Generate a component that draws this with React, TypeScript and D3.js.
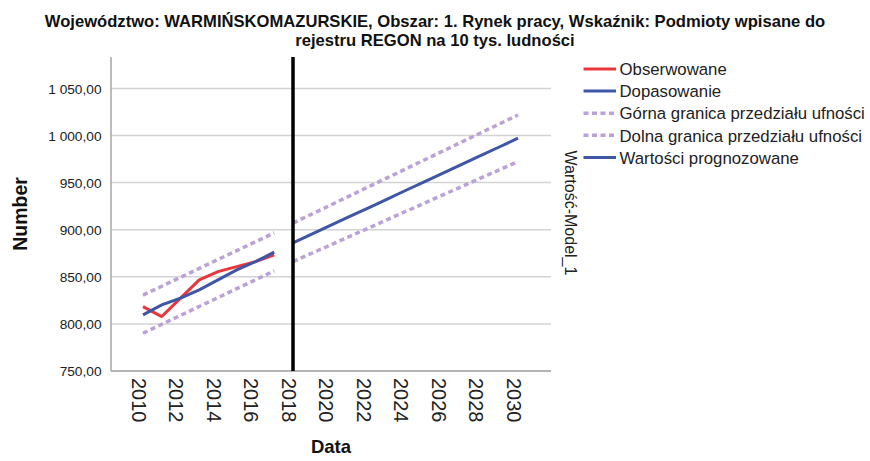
import React from "react";
import * as d3 from "d3";

const titleLines = [
  "Województwo: WARMIŃSKOMAZURSKIE, Obszar: 1. Rynek pracy, Wskaźnik: Podmioty wpisane do",
  "rejestru REGON na 10 tys. ludności",
];

const pastYears = [2010, 2011, 2012, 2013, 2014, 2015, 2016, 2017];
const observed = [818.4, 807.8, 827.3, 846.7, 855.5, 860.8, 866.1, 873.2];
const fitted = [809.6, 820.2, 827.3, 836.1, 846.7, 857.3, 866.1, 876.1];
const fitUpper = [830.6, 840.0, 849.5, 858.9, 868.4, 877.8, 887.2, 896.7];
const fitLower = [790.1, 799.6, 809.0, 818.5, 827.9, 837.4, 846.8, 856.3];

const forecastYears = [2018, 2019, 2020, 2021, 2022, 2023, 2024, 2025, 2026, 2027, 2028, 2029, 2030];
const forecast = [886.0, 895.3, 904.5, 913.8, 923.0, 932.3, 941.6, 950.8, 960.1, 969.3, 978.6, 987.8, 997.1];
const fcUpper = [907.0, 916.6, 926.1, 935.7, 945.3, 954.8, 964.4, 974.0, 983.5, 993.1, 1002.7, 1012.2, 1021.8];
const fcLower = [866.1, 875.0, 883.8, 892.7, 901.5, 910.4, 919.3, 928.1, 937.0, 945.8, 954.7, 963.5, 972.3];

const xTicks = [2010, 2012, 2014, 2016, 2018, 2020, 2022, 2024, 2026, 2028, 2030];
const yTicks = [750, 800, 850, 900, 950, 1000, 1050];
const referenceYear = 2018;

const legendItems = [
  { label: "Obserwowane", kind: "red" },
  { label: "Dopasowanie", kind: "blue" },
  { label: "Górna granica przedziału ufności", kind: "dash" },
  { label: "Dolna granica przedziału ufności", kind: "dash" },
  { label: "Wartości prognozowane", kind: "blue" },
];

const RED = "#e8373a";
const BLUE = "#3f56a6";
const PURPLE = "#bba2d6";
const FONT = "'Liberation Sans', Arial, sans-serif";

const W = 870;
const H = 461;
const plot = { left: 111, right: 551, top: 57, bottom: 371 };

function fmt(v: number) {
  const s = d3.format(",.2f")(v);
  return s.replace(/,/g, " ").replace(".", ",");
}

export default function App() {
  const x = d3
    .scaleLinear()
    .domain([2010 - 32 / 18.75, 2030 + 33 / 18.75])
    .range([plot.left, plot.right]);
  const y = d3
    .scaleLinear()
    .domain([750, 750 + (plot.bottom - plot.top) / 0.942])
    .range([plot.bottom, plot.top]);

  const line = (xs: number[], ys: number[]) =>
    d3
      .line<number>()
      .x((_, i) => x(xs[i]))
      .y((d) => y(d))(ys) || "";

  const styleFor = (kind: string) => {
    if (kind === "red") return { stroke: RED, strokeWidth: 3 };
    if (kind === "blue") return { stroke: BLUE, strokeWidth: 3 };
    return { stroke: PURPLE, strokeWidth: 3.5, strokeDasharray: "5,3.5" };
  };

  const legendY0 = 69;
  const legendStep = 22.1;

  return (
    <svg
      width={W}
      height={H}
      style={{ position: "absolute", left: 0, top: 0, background: "#fff" }}
      fontFamily={FONT}
    >
      <rect x={0} y={0} width={W} height={H} fill="#fff" />
      {titleLines.map((t, i) => (
        <text
          key={i}
          x={435}
          y={26.5 + i * 19}
          textAnchor="middle"
          fontWeight="bold"
          fontSize={16.6}
          fill="#111"
        >
          {t}
        </text>
      ))}

      {/* gridlines */}
      {yTicks.map((t) => (
        <line
          key={t}
          x1={plot.left}
          x2={plot.right}
          y1={y(t)}
          y2={y(t)}
          stroke="#d3d3d3"
          strokeWidth={1.5}
        />
      ))}

      {/* axes */}
      <line x1={plot.left} x2={plot.left} y1={plot.top} y2={plot.bottom} stroke="#a6a6a6" strokeWidth={1.5} />
      <line x1={plot.left} x2={plot.right} y1={plot.bottom} y2={plot.bottom} stroke="#a6a6a6" strokeWidth={1.5} />

      {/* y tick labels */}
      {yTicks.map((t) => (
        <text key={t} x={101.5} y={y(t)} dy="0.38em" textAnchor="end" fontSize={13.7} fill="#222">
          {fmt(t)}
        </text>
      ))}

      {/* x tick labels */}
      {xTicks.map((t) => (
        <text
          key={t}
          transform={`translate(${x(t) - 4.5},378) rotate(90)`}
          dy="0.35em"
          textAnchor="start"
          fontSize={20}
          fill="#222"
        >
          {t}
        </text>
      ))}

      {/* series */}
      <path d={line(pastYears, fitUpper)} fill="none" {...styleFor("dash")} />
      <path d={line(pastYears, fitLower)} fill="none" {...styleFor("dash")} />
      <path d={line(forecastYears, fcUpper)} fill="none" {...styleFor("dash")} />
      <path d={line(forecastYears, fcLower)} fill="none" {...styleFor("dash")} />
      <path d={line(pastYears, observed)} fill="none" {...styleFor("red")} strokeLinejoin="round" />
      <path d={line(pastYears, fitted)} fill="none" {...styleFor("blue")} />
      <path d={line(forecastYears, forecast)} fill="none" {...styleFor("blue")} />

      {/* reference line */}
      <line
        x1={x(referenceYear)}
        x2={x(referenceYear)}
        y1={plot.top}
        y2={plot.bottom}
        stroke="#000"
        strokeWidth={3.5}
      />

      {/* axis titles */}
      <text x={331} y={453} textAnchor="middle" fontWeight="bold" fontSize={18.5} fill="#111">
        Data
      </text>
      <text
        transform={`translate(27,214) rotate(-90)`}
        textAnchor="middle"
        fontWeight="bold"
        fontSize={19.5}
        fill="#111"
      >
        Number
      </text>
      <text
        transform={`translate(565,213) rotate(90)`}
        textAnchor="middle"
        fontSize={16}
        fill="#222"
      >
        Wartość-Model_1
      </text>

      {/* legend */}
      {legendItems.map((it, i) => {
        const ly = legendY0 + i * legendStep;
        return (
          <g key={i}>
            <line x1={583.5} x2={616} y1={ly} y2={ly} {...styleFor(it.kind)} />
            <text x={619.5} y={ly + 6.2} fontSize={16.8} fill="#222">
              {it.label}
            </text>
          </g>
        );
      })}
    </svg>
  );
}
